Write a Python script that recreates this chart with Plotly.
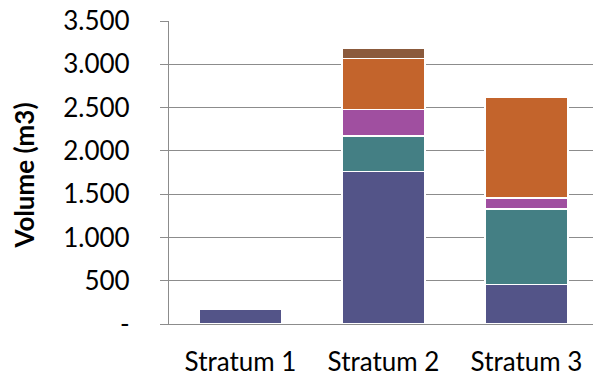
import plotly.graph_objects as go

# Stacked volume per stratum (m3)
categories = ["Stratum 1", "Stratum 2", "Stratum 3"]
series_names = ["Component A", "Component B", "Component C", "Component D", "Component E"]
series_values = [
    [173, 1762, 459],   # Component A
    [0, 412, 867],      # Component B
    [0, 305, 127],      # Component C
    [0, 586, 1172],     # Component D
    [0, 119, 0],        # Component E
]
series_colors = ["#535488", "#447F84", "#A04FA0", "#C3642C", "#8B5A3C"]

tick_values = [0, 500, 1000, 1500, 2000, 2500, 3000, 3500]
tick_labels = ["-", "500", "1.000", "1.500", "2.000", "2.500", "3.000", "3.500"]

W, H = 593, 383
left, top, bottom = 169, 21, 59.3

fig = go.Figure()
for name, vals, col in zip(series_names, series_values, series_colors):
    fig.add_trace(go.Bar(
        x=categories, y=vals, name=name,
        marker=dict(color=col, line=dict(color="white", width=1.5)),
        width=0.58,
    ))

plot_w = W - left
fig.update_layout(
    width=W, height=H,
    barmode="stack",
    showlegend=False,
    plot_bgcolor="white",
    paper_bgcolor="white",
    margin=dict(l=left, r=0, t=top, b=bottom, autoexpand=False),
    font=dict(family="Lato", size=26, color="#000000"),
    xaxis=dict(
        range=[-0.5, -0.5 + plot_w / 143.0],
        showline=True, linecolor="#8c8c8c", linewidth=1.3,
        ticks="", showgrid=False,
        tickfont=dict(size=26), ticklabelstandoff=15,
    ),
    yaxis=dict(
        range=[0, 3500],
        tickvals=tick_values, ticktext=tick_labels,
        showgrid=True, gridcolor="#8c8c8c", gridwidth=1.3,
        showline=True, linecolor="#8c8c8c", linewidth=1.3,
        ticks="outside", ticklen=8, tickcolor="#8c8c8c", tickwidth=1.3,
        ticklabelstandoff=25,
        zeroline=False,
        tickfont=dict(size=26),
    ),
    annotations=[dict(
        text="<b>Volume (m3)</b>", textangle=-90,
        xref="paper", yref="paper",
        x=(24 - left) / plot_w, y=0.49,
        xanchor="center", yanchor="middle",
        showarrow=False, font=dict(size=26),
    )],
)

fig.write_html("out.html")
